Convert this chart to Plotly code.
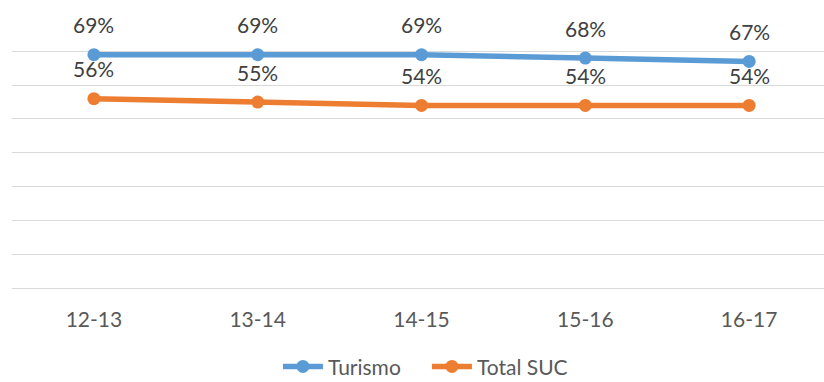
import plotly.graph_objects as go

# School years and dropout/retention shares
years = ["12-13", "13-14", "14-15", "15-16", "16-17"]
turismo = [0.69, 0.69, 0.69, 0.68, 0.67]
total_suc = [0.56, 0.55, 0.54, 0.54, 0.54]

series = [
    ("Turismo", turismo, "#5B9BD5"),
    ("Total SUC", total_suc, "#ED7D31"),
]

FONT = "Lato, 'Open Sans', sans-serif"

fig = go.Figure()
annotations = []
for name, values, color in series:
    fig.add_trace(go.Scatter(
        x=years, y=values, name=name, mode="lines+markers",
        line=dict(color=color, width=5.5),
        marker=dict(color=color, size=13),
    ))
    for x, v in zip(years, values):
        annotations.append(dict(
            x=x, y=v, xref="x", yref="y", text=f"{v:.0%}",
            showarrow=False, yshift=30, yanchor="middle",
            font=dict(family=FONT, size=21, color="#404040"),
        ))

fig.update_layout(
    width=824, height=382,
    margin=dict(l=12, r=0, t=17, b=94, autoexpand=False),
    paper_bgcolor="white", plot_bgcolor="white",
    annotations=annotations,
    showlegend=True,
    legend=dict(
        orientation="h", x=0.511, xanchor="center", y=-0.215, yanchor="top",
        font=dict(family=FONT, size=21, color="#595959"),
        itemwidth=40, entrywidth=94, tracegroupgap=0,
    ),
)
fig.update_xaxes(
    type="category", range=[-0.5, 4.457],
    showgrid=False, showline=False, zeroline=False,
    tickfont=dict(family=FONT, size=21, color="#595959"),
    ticks="", ticklabelstandoff=17,
)
fig.update_yaxes(
    range=[0, 0.8015], dtick=0.1, showticklabels=False,
    showgrid=True, gridcolor="#D9D9D9", gridwidth=1.3,
    zeroline=True, zerolinecolor="#D9D9D9", zerolinewidth=1.3,
)

fig.write_html("out.html")
